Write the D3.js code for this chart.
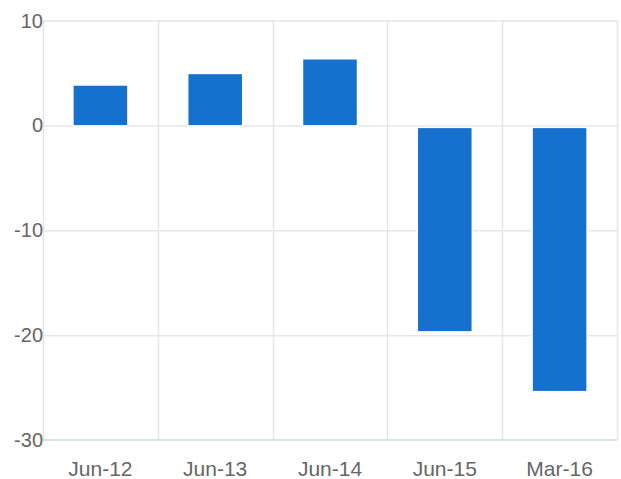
<!DOCTYPE html>
<html>
<head>
<meta charset="utf-8">
<script src="https://cdn.jsdelivr.net/npm/d3@7"></script>
<style>
  body { margin: 0; background: #fff; }
  text { font-family: "Liberation Sans", Arial, sans-serif; }
</style>
</head>
<body>
<div id="chart"></div>
<script>
// data
const categories = ["Jun-12", "Jun-13", "Jun-14", "Jun-15", "Mar-16"];
const values = [3.9, 5.0, 6.4, -19.5, -25.2];
const yTicks = [10, 0, -10, -20, -30];

const W = 621, H = 479;
const margin = { top: 20.5, right: 4, bottom: 39, left: 43 };

const svg = d3.select("#chart").append("svg")
  .attr("width", W)
  .attr("height", H);

const x = d3.scaleBand()
  .domain(categories)
  .range([margin.left, W - margin.right])
  .paddingInner(0)
  .paddingOuter(0);

const y = d3.scaleLinear()
  .domain([-30, 10])
  .range([H - margin.bottom, margin.top]);

// horizontal gridlines
svg.append("g")
  .selectAll("line")
  .data(yTicks.filter(d => d !== -30))
  .join("line")
  .attr("x1", margin.left)
  .attr("x2", W - margin.right)
  .attr("y1", d => y(d) + 0.5)
  .attr("y2", d => y(d) + 0.5)
  .attr("stroke", "#e6e6e6")
  .attr("stroke-width", 1.5);

// vertical gridlines at band edges
const edges = categories.map(c => x(c)).concat([x.range()[1]]);
svg.append("g")
  .selectAll("line")
  .data(edges)
  .join("line")
  .attr("x1", d => Math.round(d) + 0.5)
  .attr("x2", d => Math.round(d) + 0.5)
  .attr("y1", margin.top)
  .attr("y2", H - margin.bottom)
  .attr("stroke", "#e6e6e6")
  .attr("stroke-width", 1.5);

// bottom axis line
svg.append("line")
  .attr("x1", margin.left)
  .attr("x2", W - margin.right)
  .attr("y1", y(-30))
  .attr("y2", y(-30))
  .attr("stroke", "#ccd6eb")
  .attr("stroke-width", 1.5);

// bars
const bw = 55;
svg.append("g")
  .selectAll("rect")
  .data(values)
  .join("rect")
  .attr("x", (d, i) => x(categories[i]) + x.bandwidth() / 2 - bw / 2)
  .attr("width", bw)
  .attr("y", d => y(Math.max(0, d)) + (d < 0 ? 2 : 0.5))
  .attr("height", d => Math.abs(y(d) - y(0)))
  .attr("fill", "#1570ce")
  .attr("stroke", "#ffffff")
  .attr("stroke-width", 1.5);

// y labels
svg.append("g")
  .selectAll("text")
  .data(yTicks)
  .join("text")
  .attr("x", margin.left)
  .attr("y", d => y(d) + 7)
  .attr("text-anchor", "end")
  .attr("font-size", "20px")
  .attr("fill", "#666666")
  .text(d => d);

// x labels
svg.append("g")
  .selectAll("text")
  .data(categories)
  .join("text")
  .attr("x", d => x(d) + x.bandwidth() / 2)
  .attr("y", 476)
  .attr("text-anchor", "middle")
  .attr("font-size", "21px")
  .attr("fill", "#666666")
  .text(d => d);
</script>
</body>
</html>
